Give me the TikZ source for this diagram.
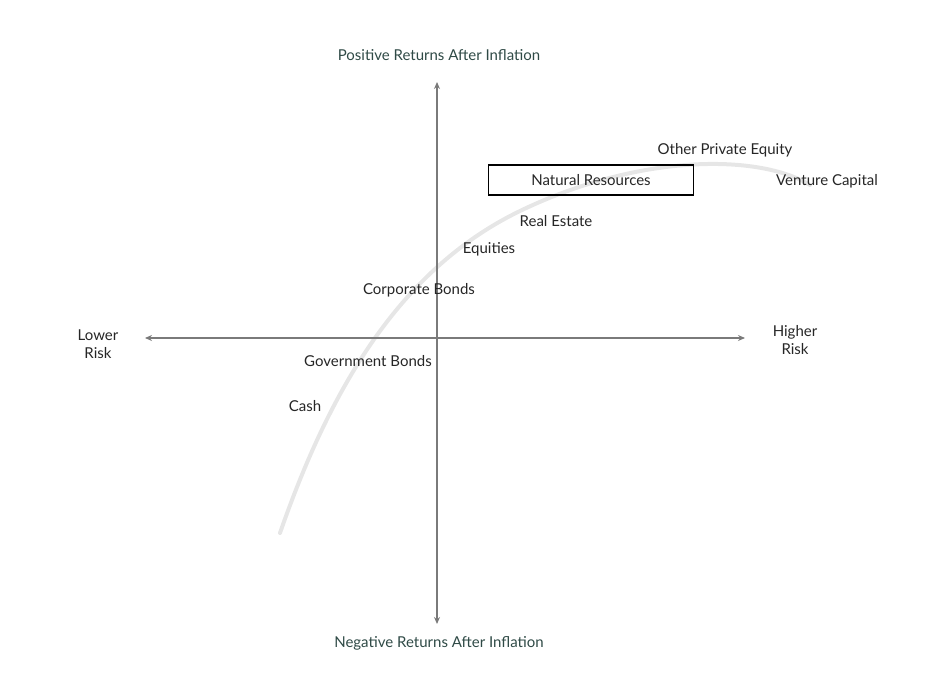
\documentclass[tikz,border=0pt]{standalone}
\usepackage{fontspec}
\setmainfont{Lato}
\usetikzlibrary{arrows.meta}
\definecolor{axisgray}{HTML}{7A7A7A}
\definecolor{titlegreen}{HTML}{2F4A46}
\definecolor{curvegray}{HTML}{E6E6E6}
\tikzset{
  lbl/.style={font=\fontsize{15}{18}\selectfont, text=black!85, inner sep=1pt},
  ttl/.style={lbl, text=titlegreen},
  axis/.style={draw=axisgray, line width=1.6pt, {Stealth[length=7pt,width=6pt]}-{Stealth[length=7pt,width=6pt]}}
}
\begin{document}
\begin{tikzpicture}[x=1pt,y=1pt]
\useasboundingbox (0,0) rectangle (929,689);
% frontier curve
\draw[curvegray, line width=4pt, line cap=round]
  (280,156) .. controls (330,300) and (400,420) .. (520,478)
  .. controls (640,536) and (760,535) .. (810,504);
% axes
\coordinate (top) at (437,607);
\coordinate (bot) at (437,65);
\coordinate (lft) at (145,351);
\coordinate (rgt) at (745,351);
\draw[axis] (bot) -- (top);
\draw[axis] (lft) -- (rgt);
% axis titles
\node[ttl] (pos) at (439,634) {Positive Returns After Inflation};
\node[ttl] (neg) at (439,46) {Negative Returns After Inflation};
\node[lbl, align=center] (low) at (98,345) {Lower\\Risk};
\node[lbl, align=center] (high) at (795,349) {Higher\\Risk};
% assets
\node[lbl] (ope) at (725,539) {Other Private Equity};
\node[lbl, draw=black, line width=1.2pt, minimum width=205pt, minimum height=30pt] (nr) at (591,509) {Natural Resources};
\node[lbl] (vc) at (827,508) {Venture Capital};
\node[lbl] (re) at (556,468) {Real Estate};
\node[lbl] (eq) at (489,440) {Equities};
\node[lbl] (cb) at (419,399) {Corporate Bonds};
\node[lbl] (gb) at (368,328) {Government Bonds};
\node[lbl] (cash) at (305,283) {Cash};
\end{tikzpicture}
\end{document}
